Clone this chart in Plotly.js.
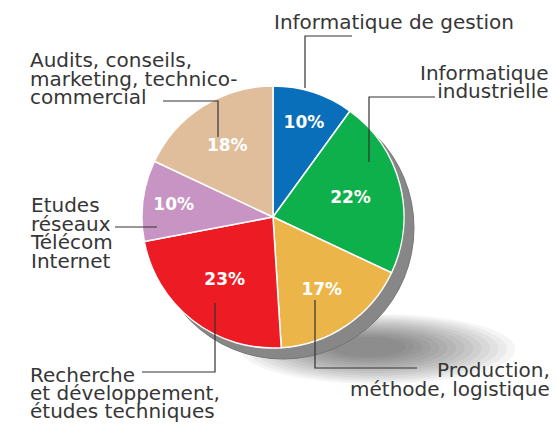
<!DOCTYPE html>
<html>
<head>
<meta charset="utf-8">
<script src="https://cdn.plot.ly/plotly-3.0.1.min.js"></script>
<style>html,body{margin:0;padding:0;background:#fff}#chart{width:557px;height:424px}</style>
</head>
<body>
<div id="chart"></div>
<script>
// ---- data ----
const categories = [
  "Informatique de gestion",
  "Informatique industrielle",
  "Production, méthode, logistique",
  "Recherche et développement, études techniques",
  "Etudes réseaux Télécom Internet",
  "Audits, conseils, marketing, technico-commercial"
];
const shares = [10, 22, 17, 23, 10, 18];
const labelLines = [
  ["Informatique de gestion"],
  ["Informatique", "industrielle"],
  ["Production,", "méthode, logistique"],
  ["Recherche", "et développement,", "études techniques"],
  ["Etudes", "réseaux", "Télécom", "Internet"],
  ["Audits, conseils,", "marketing, technico-", "commercial"]
];
const sliceColors = ["#0a6fba", "#0db04b", "#ebb54a", "#ed1c24", "#c894c3", "#e0be9b"];

// ---- layout helpers (pixel -> paper) ----
const W = 557, H = 424;
const px = x => x / W;
const py = y => 1 - y / H;
const cx = 273, cy = 217, R = 131;
const dom = (ox, oy) => ({
  x: [px(cx + ox - R), px(cx + ox + R)],
  y: [py(cy + oy + R), py(cy + oy - R)]
});

// label placement: [anchor, x, first baseline, line step]
const labelPlace = [
  ["left", 272, 27, 18.5],
  ["right", 551, 78, 17.5],
  ["right", 552, 375, 19],
  ["left", 28, 380, 18],
  ["left", 28, 210, 18.5],
  ["left", 28, 65, 18.5]
];
const leaders = [
  [[305, 88], [305, 36], [352, 36]],
  [[369, 162], [369, 97], [435, 97]],
  [[315, 300], [315, 368], [417, 368]],
  [[215, 303], [215, 372], [142, 372]],
  [[157, 227], [115, 227]],
  [[218, 137], [218, 101], [163, 101]]
];
const LABEL_SIZE = 20;

const annotations = labelLines.map((lines, i) => {
  const [anc, x, b0, step] = labelPlace[i];
  return {
    text: lines.map(t => '<span style="font-size:' + LABEL_SIZE + 'px">' + t + '</span>').join("<br>"),
    xref: "paper", yref: "paper",
    x: px(x), y: py(b0 - 19.5),
    xanchor: anc, yanchor: "top", align: anc, showarrow: false,
    font: {family: "DejaVu Sans", size: step / 1.3, color: "#363636"}
  };
});

const shapes = [];
// soft cast shadow (stacked translucent ellipses)
for (let k = 0; k < 14; k++) {
  const f = k / 13;
  const w = 275 - 200 * f, h = 70 - 50 * f;
  const ccx = 378 - 10 * f, ccy = 349 - 2 * f;
  shapes.push({type: "circle", xref: "paper", yref: "paper", layer: "below",
    x0: px(ccx - w / 2), x1: px(ccx + w / 2), y0: py(ccy + h / 2), y1: py(ccy - h / 2),
    fillcolor: "#000", opacity: 0.038, line: {width: 0}});
}
leaders.forEach(pts => {
  const d = pts.map((p, k) => (k ? "L" : "M") + px(p[0]) + "," + py(p[1])).join(" ");
  shapes.push({type: "path", xref: "paper", yref: "paper", layer: "above", path: d,
    line: {color: "#333333", width: 1.2}});
});

const rim = {
  type: "pie", values: [1], labels: ["rim"], sort: false,
  domain: dom(10, 11), textinfo: "none", hoverinfo: "skip",
  marker: {colors: ["#878787"], line: {color: "#767676", width: 1}}
};
const pie = {
  type: "pie", values: shares, labels: categories, sort: false,
  direction: "clockwise", rotation: 0,
  domain: dom(0, 0),
  textinfo: "percent", textposition: "inside", insidetextorientation: "horizontal",
  textfont: {family: "DejaVu Sans", size: 17, color: "#ffffff", weight: "bold"},
  marker: {colors: sliceColors, line: {color: "#ffffff", width: 1.5}}
};

Plotly.newPlot("chart", [rim, pie], {
  width: W, height: H, margin: {l: 0, r: 0, t: 0, b: 0},
  paper_bgcolor: "#ffffff", showlegend: false,
  annotations: annotations, shapes: shapes
}, {staticPlot: true});
</script>
</body>
</html>
